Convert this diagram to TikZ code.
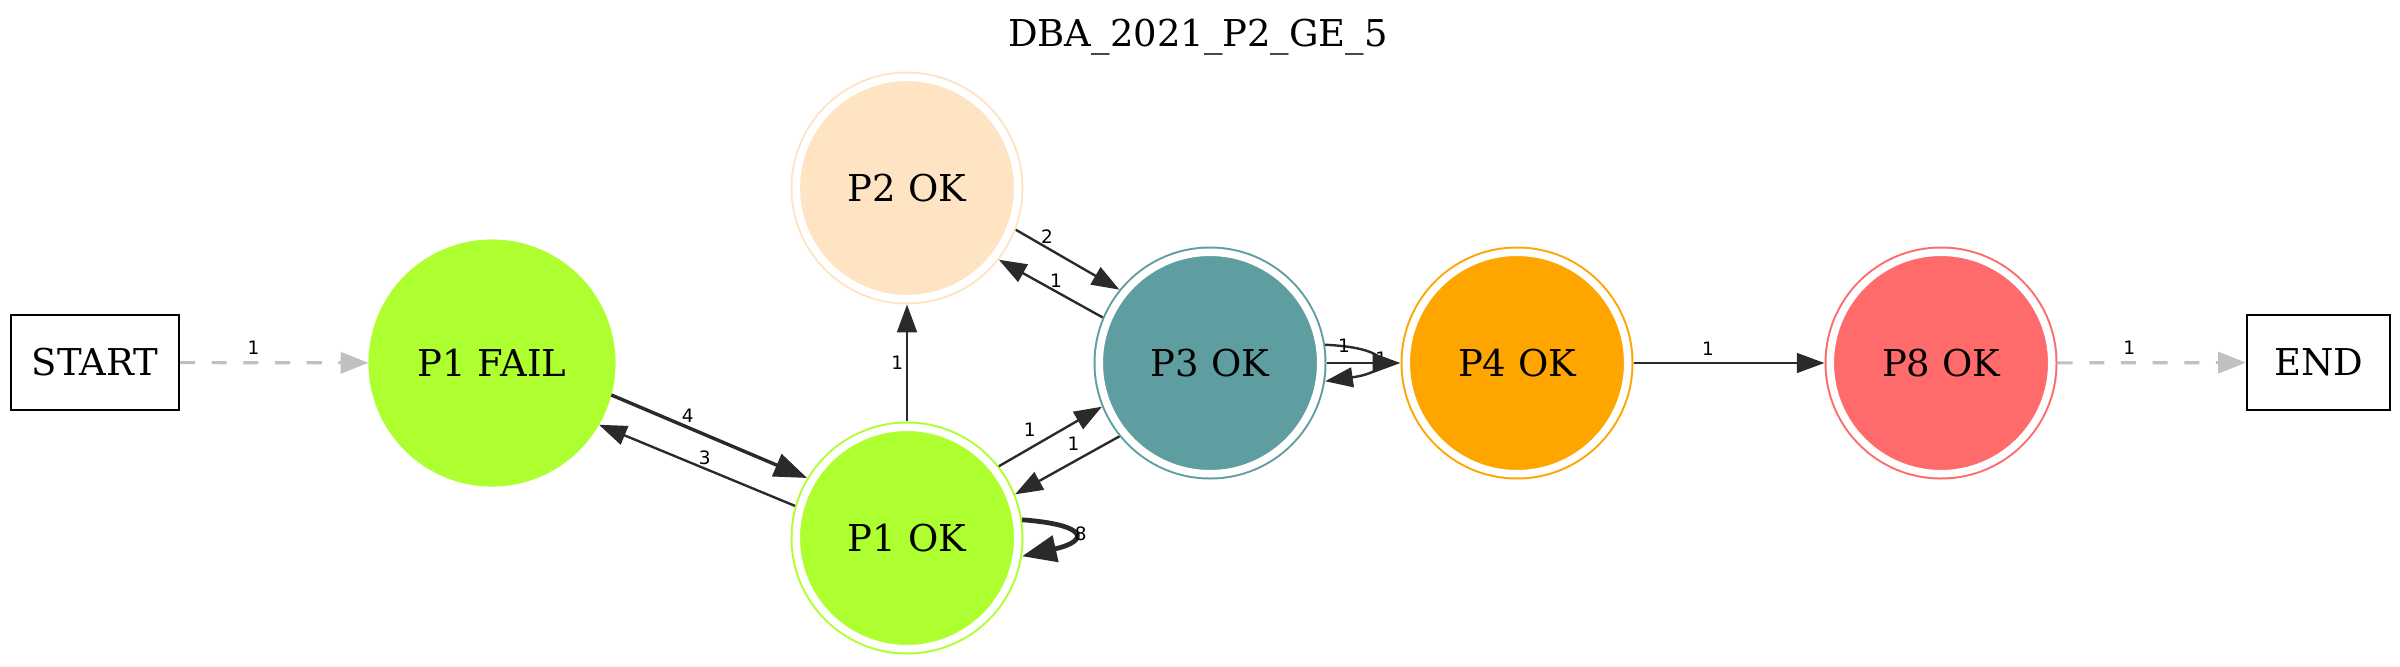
\documentclass[tikz,border=0pt]{standalone}
\usepackage{fontspec}
\setmainfont{DejaVu Serif}
\newfontfamily\edgefont{DejaVu Sans}
\usetikzlibrary{arrows.meta}
\definecolor{greenyel}{HTML}{ADFF2F}
\definecolor{bisq}{HTML}{FFE4C4}
\definecolor{cadet}{HTML}{5F9EA0}
\definecolor{orng}{HTML}{FFA500}
\definecolor{salmonred}{HTML}{FF6A6A}
\definecolor{edgegray}{HTML}{2A2A2A}
\definecolor{dashgray}{HTML}{C0C0C0}

\begin{document}
\begin{tikzpicture}[
		x=0.3788pt, y=-0.3788pt,
		every node/.style={font=\fontsize{14}{17}\selectfont},
		okstate/.style={circle, draw=#1, fill=#1, line width=0.76pt, double=white,
			double distance=2.84pt, minimum size=83.9pt, inner sep=0pt, outer sep=2.2pt},
		failstate/.style={circle, fill=#1, minimum size=93.6pt, inner sep=0pt, outer sep=0pt},
		endbox/.style={rectangle, draw, line width=0.8pt, minimum height=36pt, inner sep=0pt},
		trans/.style={draw=edgegray, line width=0.9pt, -{Triangle[length=10.5pt,width=7.5pt]}},
		ghost/.style={draw=dashgray, line width=1.2pt, dash pattern=on 5.7pt off 6.3pt,
			-{Triangle[length=10.5pt,width=8pt]}},
		lbl/.style={font=\edgefont\fontsize{7}{8}\selectfont, inner sep=1pt}
		]
		\useasboundingbox (0,0) rectangle (2400,666);

		\node (title) at (1198,37) {DBA\_2021\_P2\_GE\_5};

		\node[endbox, minimum width=63.6pt](START) at (95,362.5){START};
		\node[failstate=greenyel](P1F) at (492,363){P1 FAIL};
		\node[okstate=greenyel](P1OK) at (907,538){P1 OK};
		\node[okstate=bisq](P2OK) at (907,188){P2 OK};
		\node[okstate=cadet](P3OK) at (1210,363){P3 OK};
		\node[okstate=orng](P4OK) at (1517,363){P4 OK};
		\node[okstate=salmonred](P8OK) at (1941,363){P8 OK};
		\node[endbox, minimum width=54.2pt](END) at (2318.5,362.5){END};

		\draw[ghost] (START) -- node[lbl, pos=0.39, above=1.4pt]{1} (P1F);
		\draw[trans, line width=1.3pt, -{Triangle[length=12.5pt,width=9pt]}]
		(P1F.-15.4) -- node[lbl, pos=0.39, above]{4} (P1OK.149);
		\draw[trans] (P1OK.164.8) -- node[lbl, pos=0.46, above]{3} (P1F.-30.8);
		\draw[trans, line width=1.8pt, -{Triangle[length=13pt,width=10pt]}]
		(P1OK.9) .. controls +(67,5) and +(67,-15) .. node[lbl, pos=0.5, right, inner sep=0pt]{8} (P1OK.-9);
		\draw[trans] (P1OK) -- node[lbl, midway, left]{1} (P2OK);
		\draw[trans] (P2OK.-21.9) -- node[lbl, pos=0.3, above]{2} (P3OK.141.3);
		\draw[trans] (P3OK.157.8) -- node[lbl, pos=0.45, above]{1} (P2OK.-38.1);
		\draw[trans] (P1OK.38.3) -- node[lbl, pos=0.3, above=3pt]{1} (P3OK.-158);
		\draw[trans] (P3OK.-141.5) -- node[lbl, pos=0.44, above=3pt]{1} (P1OK.22);
		\draw[trans] (P3OK.9) .. controls +(70,3) and +(70,-10) .. node[lbl, pos=0.1]{1} (P3OK.-9);
		\path (P3OK) -- node[lbl, pos=0.74, yshift=1.5pt]{1} (P4OK);
		\draw[trans] (P3OK) -- (P4OK);
		\draw[trans] (P4OK) -- node[lbl, pos=0.39, above=1.4pt]{1} (P8OK);
		\draw[ghost] (P8OK) -- node[lbl, pos=0.38, above=1.4pt]{1} (END);
	\end{tikzpicture}
\end{document}
